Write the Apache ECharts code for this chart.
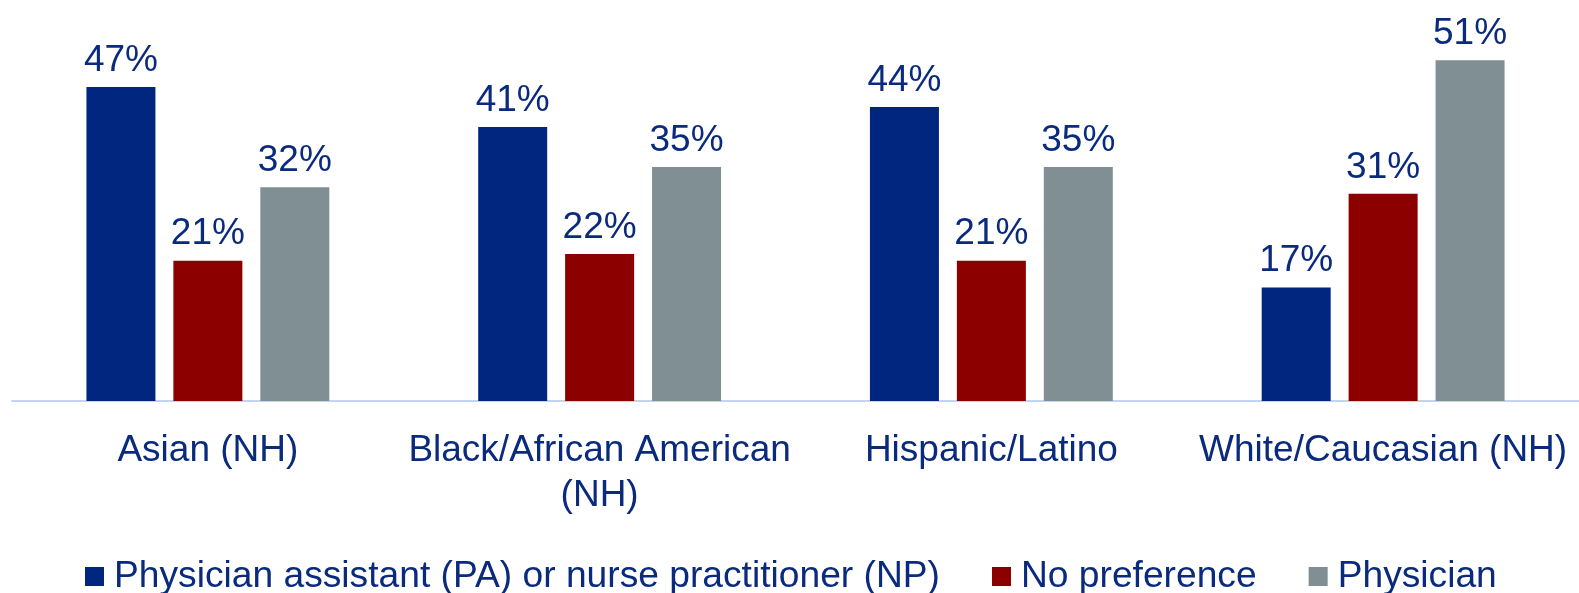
<!DOCTYPE html>
<html>
<head>
<meta charset="utf-8">
<script src="https://cdn.jsdelivr.net/npm/echarts@6/dist/echarts.min.js"></script>
<style>
html,body{margin:0;padding:0;background:#fff;}
#c{width:1579px;height:593px;}
</style>
</head>
<body>
<div id="c"></div>
<script>
var categories = ['Asian (NH)', 'Black/African American\n(NH)', 'Hispanic/Latino', 'White/Caucasian (NH)'];
var seriesNames = ['Physician assistant (PA) or nurse practitioner (NP)', 'No preference', 'Physician'];
var paValues = [47, 41, 44, 17];
var noPrefValues = [21, 22, 21, 31];
var physicianValues = [32, 35, 35, 51];

var colors = ['#00267f', '#8c0000', '#7f8f93'];
var textColor = '#0a2a7e';
var font = 'Arial, "Liberation Sans", sans-serif';

function mk(name, data, color) {
  return {
    name: name,
    type: 'bar',
    data: data,
    barWidth: 69,
    barGap: '26%',
    itemStyle: { color: color },
    label: {
      show: true,
      position: 'top',
      distance: 8,
      formatter: '{c}%',
      color: textColor,
      fontSize: 37,
      fontFamily: font
    }
  };
}

var chart = echarts.init(document.getElementById('c'));
chart.setOption({
  animation: false,
  backgroundColor: '#fff',
  grid: { left: 12, right: 0, top: -3, bottom: 192, containLabel: false },
  legend: {
    left: 80,
    top: 553,
    itemWidth: 19,
    itemHeight: 19,
    itemGap: 52,
    icon: 'rect',
    data: seriesNames,
    textStyle: { color: textColor, fontSize: 37.2, fontFamily: font, padding: [0, 0, 0, 5] }
  },
  xAxis: {
    type: 'category',
    data: categories,
    axisLine: { show: true, lineStyle: { color: '#c5d3f3', width: 2 } },
    axisTick: { show: false },
    axisLabel: { color: textColor, fontSize: 37, fontFamily: font, margin: 27, lineHeight: 45, interval: 0 }
  },
  yAxis: {
    type: 'value',
    min: 0,
    max: 60,
    show: false,
    splitLine: { show: false }
  },
  series: [
    mk(seriesNames[0], paValues, colors[0]),
    mk(seriesNames[1], noPrefValues, colors[1]),
    mk(seriesNames[2], physicianValues, colors[2])
  ]
});
</script>
</body>
</html>
